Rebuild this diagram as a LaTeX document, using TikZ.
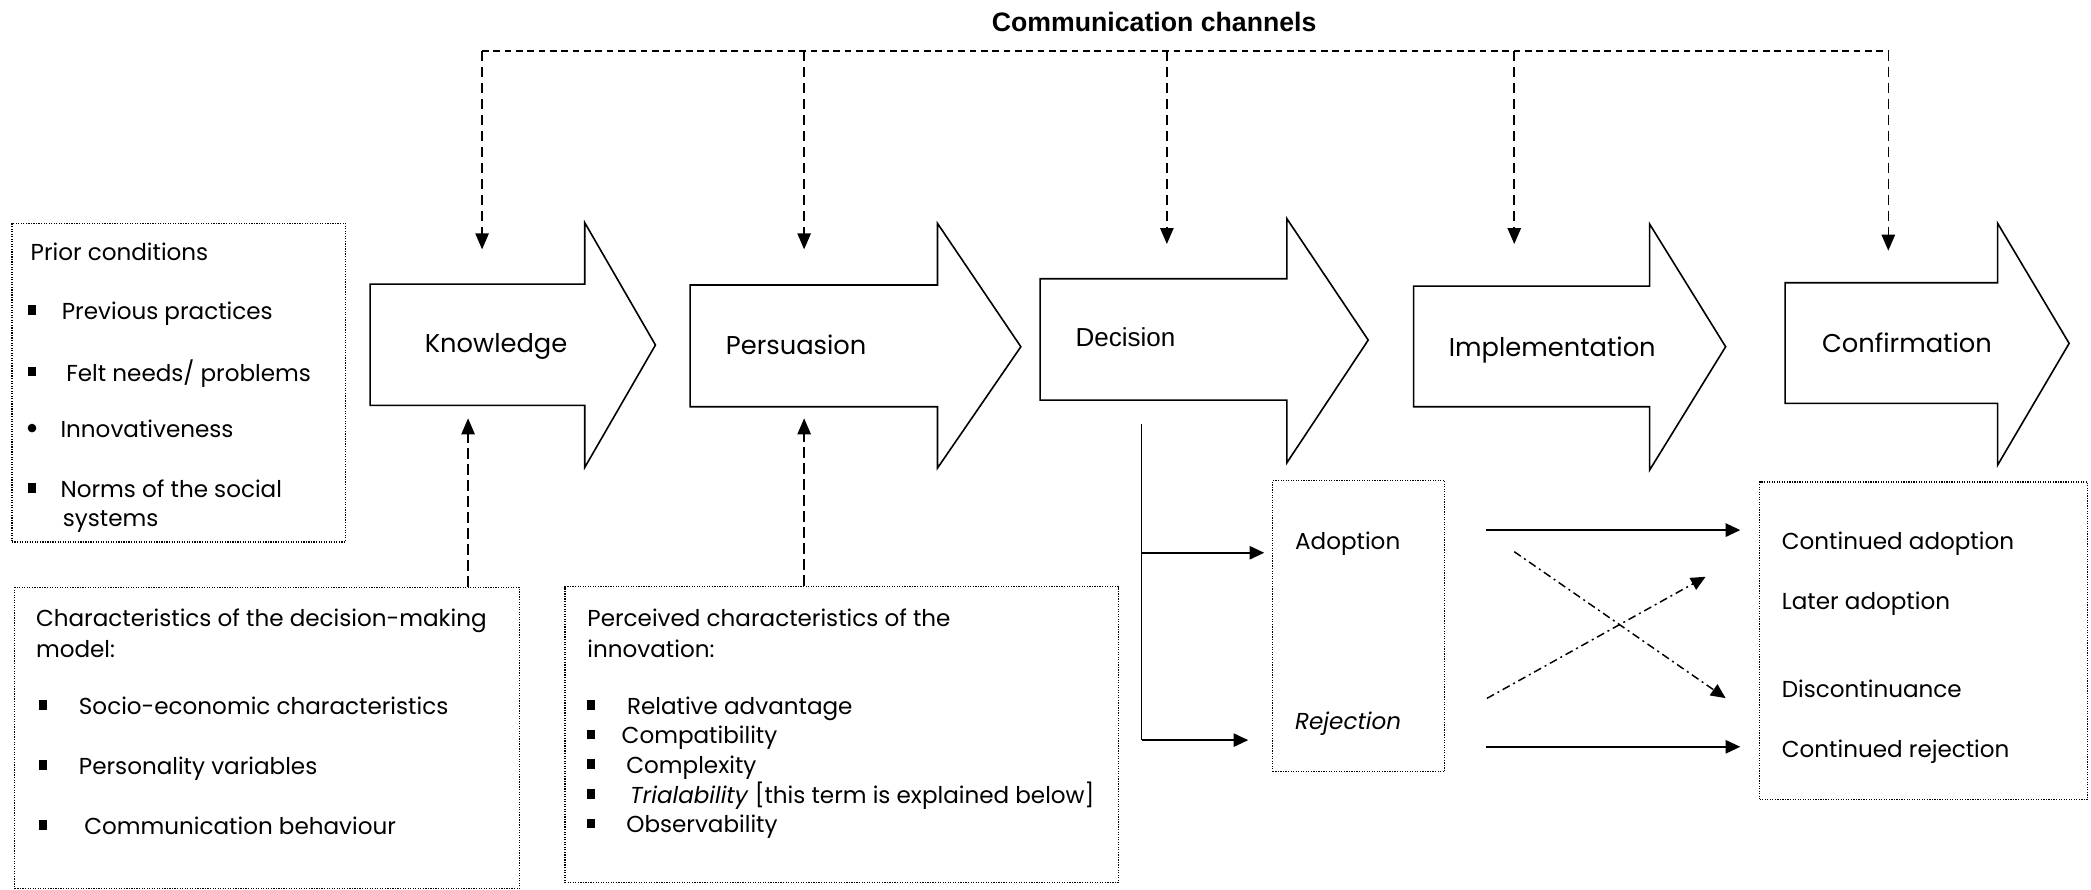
\documentclass[tikz,border=0pt]{standalone}
\usepackage{fontspec}
\setmainfont{Poppins}
\newfontfamily\arialf{Liberation Sans}
\usetikzlibrary{arrows.meta}
\begin{document}
\begin{tikzpicture}[x=1pt,y=-1pt,
  blk/.style={draw, line width=1.2pt, line join=miter, fill=white},
  lbl/.style={font=\fontsize{19.3}{23}\selectfont, inner sep=0pt, text height=0.72em, text depth=0pt, yshift=-3.5pt},
  txt/.style={font=\fontsize{17.3}{21}\selectfont, anchor=west, inner sep=0pt, text height=0.72em, text depth=0pt, yshift=-3.5pt},
  dbox/.style={draw, densely dotted, line width=0.9pt, inner sep=0pt, anchor=north west},
  bsq/.style={fill=black, inner sep=0pt, minimum width=6pt, minimum height=7pt},
  bci/.style={fill=black, circle, inner sep=0pt, minimum size=6.5pt},
  chan/.style={dash pattern=on 8pt off 4pt, line width=1.2pt, -{Triangle[length=12pt,width=10pt]}},
  topline/.style={dash pattern=on 5pt off 3.5pt, line width=1.3pt},
  solidarr/.style={line width=1.4pt, -{Triangle[length=11pt,width=10pt]}},
  dotarr/.style={line width=1.1pt, dash pattern=on 6pt off 3pt on 1.5pt off 3pt, -{Triangle[length=11pt,width=10pt]}},
]
\useasboundingbox (0,0) rectangle (1568,667);

% title
\node[font=\arialf\bfseries\fontsize{20}{24}\selectfont, inner sep=0pt] (title) at (865.5,16.7) {Communication channels};

% block arrows
\draw[blk] (277.5,213) -- (438.5,213) -- (438.5,167) -- (491.5,258.7) -- (438.5,350.5) -- (438.5,304) -- (277.5,304) -- cycle;
\draw[blk] (517.5,213.7) -- (703,213.7) -- (703,167.5) -- (765.5,260) -- (703,351) -- (703,305) -- (517.5,305) -- cycle;
\draw[blk] (780,209) -- (965,209) -- (965,164) -- (1026,255) -- (965,347) -- (965,300) -- (780,300) -- cycle;
\draw[blk] (1060,214.5) -- (1237,214.5) -- (1237,168) -- (1294,260) -- (1237,352.5) -- (1237,305) -- (1060,305) -- cycle;
\draw[blk] (1338.6,212) -- (1498,212) -- (1498,167.5) -- (1551.6,257.5) -- (1498,348.7) -- (1498,302.5) -- (1338.6,302.5) -- cycle;

\node[lbl] (know) at (372,257.5) {Knowledge};
\node[lbl] (pers) at (597,258.7) {Persuasion};
\node[lbl, font=\arialf\fontsize{19.5}{23}\selectfont] (deci) at (844,252.5) {Decision};
\node[lbl] (impl) at (1164,260) {Implementation};
\node[lbl] (conf) at (1430,257.3) {Confirmation};

% communication channels
\coordinate (c1) at (361.5,38);
\coordinate (c2) at (603,38);
\coordinate (c3) at (875,38);
\coordinate (c4) at (1135.5,38);
\coordinate (c5) at (1416,38);
\draw[topline] (c1) -- (c5);
\coordinate (k1) at (361.5,187);
\coordinate (k2) at (603,187);
\coordinate (k3) at (875,183);
\coordinate (k4) at (1135.5,183);
\coordinate (k5) at (1416,188);
\draw[chan] (c1) -- (k1);
\draw[chan] (c2) -- (k2);
\draw[chan] (c3) -- (k3);
\draw[chan] (c4) -- (k4);
\draw[chan] (c5) -- (k5);

% prior conditions
\node[dbox, minimum width=250pt, minimum height=239pt] (prior) at (8.5,167) {};
\node[txt] (p0) at (22.8,188) {Prior conditions};
\node[bsq] (pb1) at (24,232.5) {};
\node[bsq] (pb2) at (24,278.7) {};
\node[bci] (pb3) at (24,321) {};
\node[bsq] (pb4) at (24,366) {};
\node[txt] (p1) at (46.2,232.5) {Previous practices};
\node[txt] (p2) at (49.5,278.7) {Felt needs/ problems};
\node[txt] (p3) at (45.2,321) {Innovativeness};
\node[txt] (p4) at (45.2,366) {Norms of the social};
\node[txt] (p5) at (46.9,387.5) {systems};

% characteristics of decision-making unit
\node[dbox, minimum width=378.3pt, minimum height=226pt] (charbox) at (10.7,440) {};
\node[txt] (ch0) at (26.8,462.5) {Characteristics of the decision-making};
\node[txt] (ch0b) at (26.8,486) {model:};
\node[bsq] (cb1) at (32,528.7) {};
\node[bsq] (cb2) at (32,573.7) {};
\node[bsq] (cb3) at (32,618.7) {};
\node[txt] (ch1) at (59,528.7) {Socio-economic characteristics};
\node[txt] (ch2) at (59,573.7) {Personality variables};
\node[txt] (ch3) at (63,618.7) {Communication behaviour};

% perceived characteristics
\node[dbox, minimum width=414.7pt, minimum height=222pt] (percbox) at (423.3,439.5) {};
\node[txt] (pc0) at (440.3,462.5) {Perceived characteristics of the};
\node[txt] (pc0b) at (440.3,486) {innovation:};
\node[bsq] (qb1) at (443,528.7) {};
\node[bsq] (qb2) at (443,550.7) {};
\node[bsq] (qb3) at (443,573) {};
\node[bsq] (qb4) at (443,595.5) {};
\node[bsq] (qb5) at (443,617.5) {};
\node[txt] (pc1) at (470,528.7) {Relative advantage};
\node[txt] (pc2) at (466,550.7) {Compatibility};
\node[txt] (pc3) at (469.5,573) {Complexity};
\node[txt] (pc4) at (472.4,595.5) {\textit{Trialability} [this term is explained below]};
\node[txt] (pc5) at (469.5,617.5) {Observability};

% upward influences
\coordinate (u1) at (351,313.7);
\coordinate (u2) at (603,313.7);
\draw[chan] (charbox.north west -| u1) -- (u1);
\draw[chan] (percbox.north west -| u2) -- (u2);

% adoption / rejection
\node[dbox, minimum width=129pt, minimum height=218pt] (adbox) at (954,360) {};
\node[txt] (ad) at (971,405) {Adoption};
\node[txt] (rj) at (971,540) {\textit{Rejection}};

\coordinate (d0) at (856,318);
\coordinate (d1) at (856,414.5);
\coordinate (d2) at (856,555);
\coordinate (d1e) at (948,414.5);
\coordinate (d2e) at (936,555);
\draw[line width=1.4pt] (d0) -- (d2);
\draw[solidarr] (d1) -- (d1e);
\draw[solidarr] (d2) -- (d2e);

% outcomes
\node[dbox, minimum width=246pt, minimum height=238pt] (outbox) at (1319,361) {};
\node[txt] (o1) at (1336,405) {Continued adoption};
\node[txt] (o2) at (1336,450) {Later adoption};
\node[txt] (o3) at (1336,516) {Discontinuance};
\node[txt] (o4) at (1336,561) {Continued rejection};

\coordinate (a1s) at (1114,397.5);
\coordinate (a1e) at (1305,397.5);
\coordinate (a2s) at (1114,560);
\coordinate (a2e) at (1305,560);
\draw[solidarr] (a1s) -- (a1e);
\draw[solidarr] (a2s) -- (a2e);
\coordinate (x1s) at (1135.5,413.7);
\coordinate (x1e) at (1294,523.5);
\coordinate (x2s) at (1115,523.7);
\coordinate (x2e) at (1279,432.5);
\draw[dotarr] (x1s) -- (x1e);
\draw[dotarr] (x2s) -- (x2e);
\end{tikzpicture}
\end{document}
